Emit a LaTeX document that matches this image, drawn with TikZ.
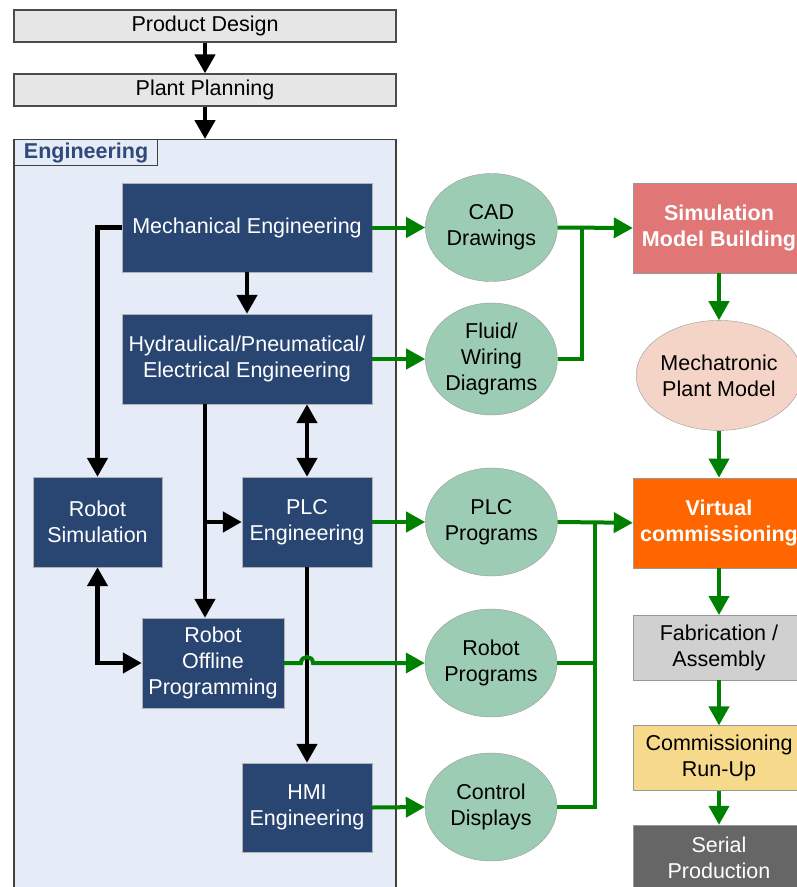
\documentclass[tikz,border=0pt]{standalone}
\usepackage{fontspec}
\setmainfont{Liberation Sans}
\usepackage{tikz}
\usetikzlibrary{positioning,shapes.geometric,arrows.meta}
\definecolor{plangray}{RGB}{230,230,230}
\definecolor{engfill}{RGB}{230,236,247}
\definecolor{engtext}{RGB}{47,74,122}
\definecolor{engblue}{RGB}{41,70,115}
\definecolor{datagreen}{RGB}{157,204,180}
\definecolor{arrowgreen}{RGB}{0,128,0}
\definecolor{simred}{RGB}{224,118,118}
\definecolor{plantpeach}{RGB}{244,212,198}
\definecolor{vcorange}{RGB}{255,102,0}
\definecolor{fabgray}{RGB}{208,208,208}
\definecolor{runyellow}{RGB}{247,217,140}
\definecolor{serialgray}{RGB}{102,102,102}

\begin{document}
\begin{tikzpicture}[x=1pt,y=-1pt,
font=\fontsize{21.5}{26}\selectfont,
plan/.style={draw=black!70,line width=1.2pt,fill=plangray,minimum width=382pt,minimum height=32pt,inner sep=0pt},
engbox/.style={draw=gray!60,fill=engblue,text=white,align=center,inner sep=0pt},
data/.style={ellipse,draw=gray!80,fill=datagreen,align=center,minimum width=132pt,minimum height=108pt,inner sep=0pt},
stage/.style={draw=gray!80,align=center,minimum width=172pt,minimum height=65pt,inner sep=0pt},
hot/.style={text=white,font=\fontsize{21.5}{26}\selectfont\bfseries},
blk/.style={line width=4.5pt,-{Triangle[width=20pt,length=19pt]}},
dblk/.style={line width=4.5pt,{Triangle[width=20pt,length=19pt]}-{Triangle[width=20pt,length=19pt]}},
grn/.style={draw=arrowgreen,line width=4pt,-{Triangle[width=20pt,length=19pt]}},
gln/.style={draw=arrowgreen,line width=4pt},
node distance=47pt]
\useasboundingbox (0,0) rectangle (797,887);

\node (pd) [plan] at (205,26) {Product Design};
\node (pp) [plan] at (205,90) {Plant Planning};
\node (eng) [draw=black!75,line width=1.2pt,fill=engfill,minimum width=382pt,minimum height=756pt,anchor=north] at (205,139) {};
\node (englab) [draw=black!75,line width=1.2pt,fill=engfill,anchor=north west,minimum width=143pt,minimum height=26pt,inner sep=0pt,text=engtext,font=\fontsize{21.5}{26}\selectfont\bfseries] at (14,139) {Engineering};

\node (mech) [engbox,minimum width=250pt,minimum height=89pt] at (247,227.5) {Mechanical Engineering};
\node (hyd) [engbox,minimum width=250pt,minimum height=90pt] at (247,359) {Hydraulical/Pneumatical/\\Electrical Engineering};
\node (rsim) [engbox,minimum width=129pt,minimum height=90pt] at (97.5,522) {Robot\\Simulation};
\node (plc) [engbox,minimum width=130pt,minimum height=90pt] at (307,522) {PLC\\Engineering};
\node (rop) [engbox,minimum width=142pt,minimum height=90pt] at (213,663) {Robot\\Offline\\Programming};
\node (hmi) [engbox,minimum width=130pt,minimum height=89pt] at (307,807.5) {HMI\\Engineering};

\node (cad) [data,right=53pt of mech] {CAD\\Drawings};
\node (flu) [data,right=53pt of hyd,minimum height=112pt] {Fluid/\\Wiring\\Diagrams};
\node (plp) [data,right=53pt of plc] {PLC\\Programs};
\node (rpr) [data] at (491,663) {Robot\\Programs};
\node (ctd) [data] at (491,807) {Control\\Displays};

\node (smb) [stage,hot,fill=simred,minimum height=90pt] at (719,228) {Simulation\\Model Building};
\node (mpm) [ellipse,draw=gray!80,fill=plantpeach,minimum width=158pt,minimum height=110pt,align=center,inner sep=0pt,below=of smb] {Mechatronic\\Plant Model};
\node (vc) [stage,hot,fill=vcorange,minimum height=90pt,below=of mpm] {Virtual\\commissioning};
\node (fab) [stage,fill=fabgray,below=of vc] {Fabrication /\\Assembly};
\node (cru) [stage,fill=runyellow,below=45pt of fab] {Commissioning\\Run-Up};
\node (sp) [stage,fill=serialgray,text=white,below=34pt of cru] {Serial\\Production};

\draw[blk] (pd.south) -- (pp.north);
\draw[blk] (pp.south) -- (eng.north);
\draw[blk] (mech.south) -- (hyd.north);
\draw[blk] (mech.west) -| (rsim.north);
\coordinate (ropin) at ([xshift=-8pt]rop.north);
\draw[blk] (ropin |- hyd.south) -- (ropin);
\draw[blk] (ropin |- plc.west) -- (plc.west);
\draw[dblk] (plc.north |- hyd.south) -- (plc.north);
\draw[dblk] (rsim.south) |- (rop.west);
\draw[blk] (plc.south) -- (hmi.north);

\draw[grn] (mech.east) -- (cad.west);
\draw[grn] (hyd.east) -- (flu.west);
\draw[grn] (plc.east) -- (plp.west);
\draw[grn] (hmi.east) -- (ctd.west);
\coordinate (jmp) at (plc.south |- rop.east);
\draw[grn] (rop.east) -- ([xshift=-6pt]jmp) .. controls +(0,-8) and +(0,-8) .. ([xshift=6pt]jmp) -- (rpr.west);

\coordinate (jn1) at (582,228);
\coordinate (jn2) at (595,522);
\draw[grn] (cad.east) -- (smb.west);
\draw[gln] (flu.east) -| (jn1);
\draw[grn] (plp.east) -- (vc.west);
\draw[gln] (rpr.east) -| (jn2);
\draw[gln] (ctd.east) -| (jn2);
\draw[grn] (smb.south) -- (mpm.north);
\draw[grn] (mpm.south) -- (vc.north);
\draw[grn] (vc.south) -- (fab.north);
\draw[grn] (fab.south) -- (cru.north);
\draw[grn] (cru.south) -- (sp.north);
\end{tikzpicture}
\end{document}
